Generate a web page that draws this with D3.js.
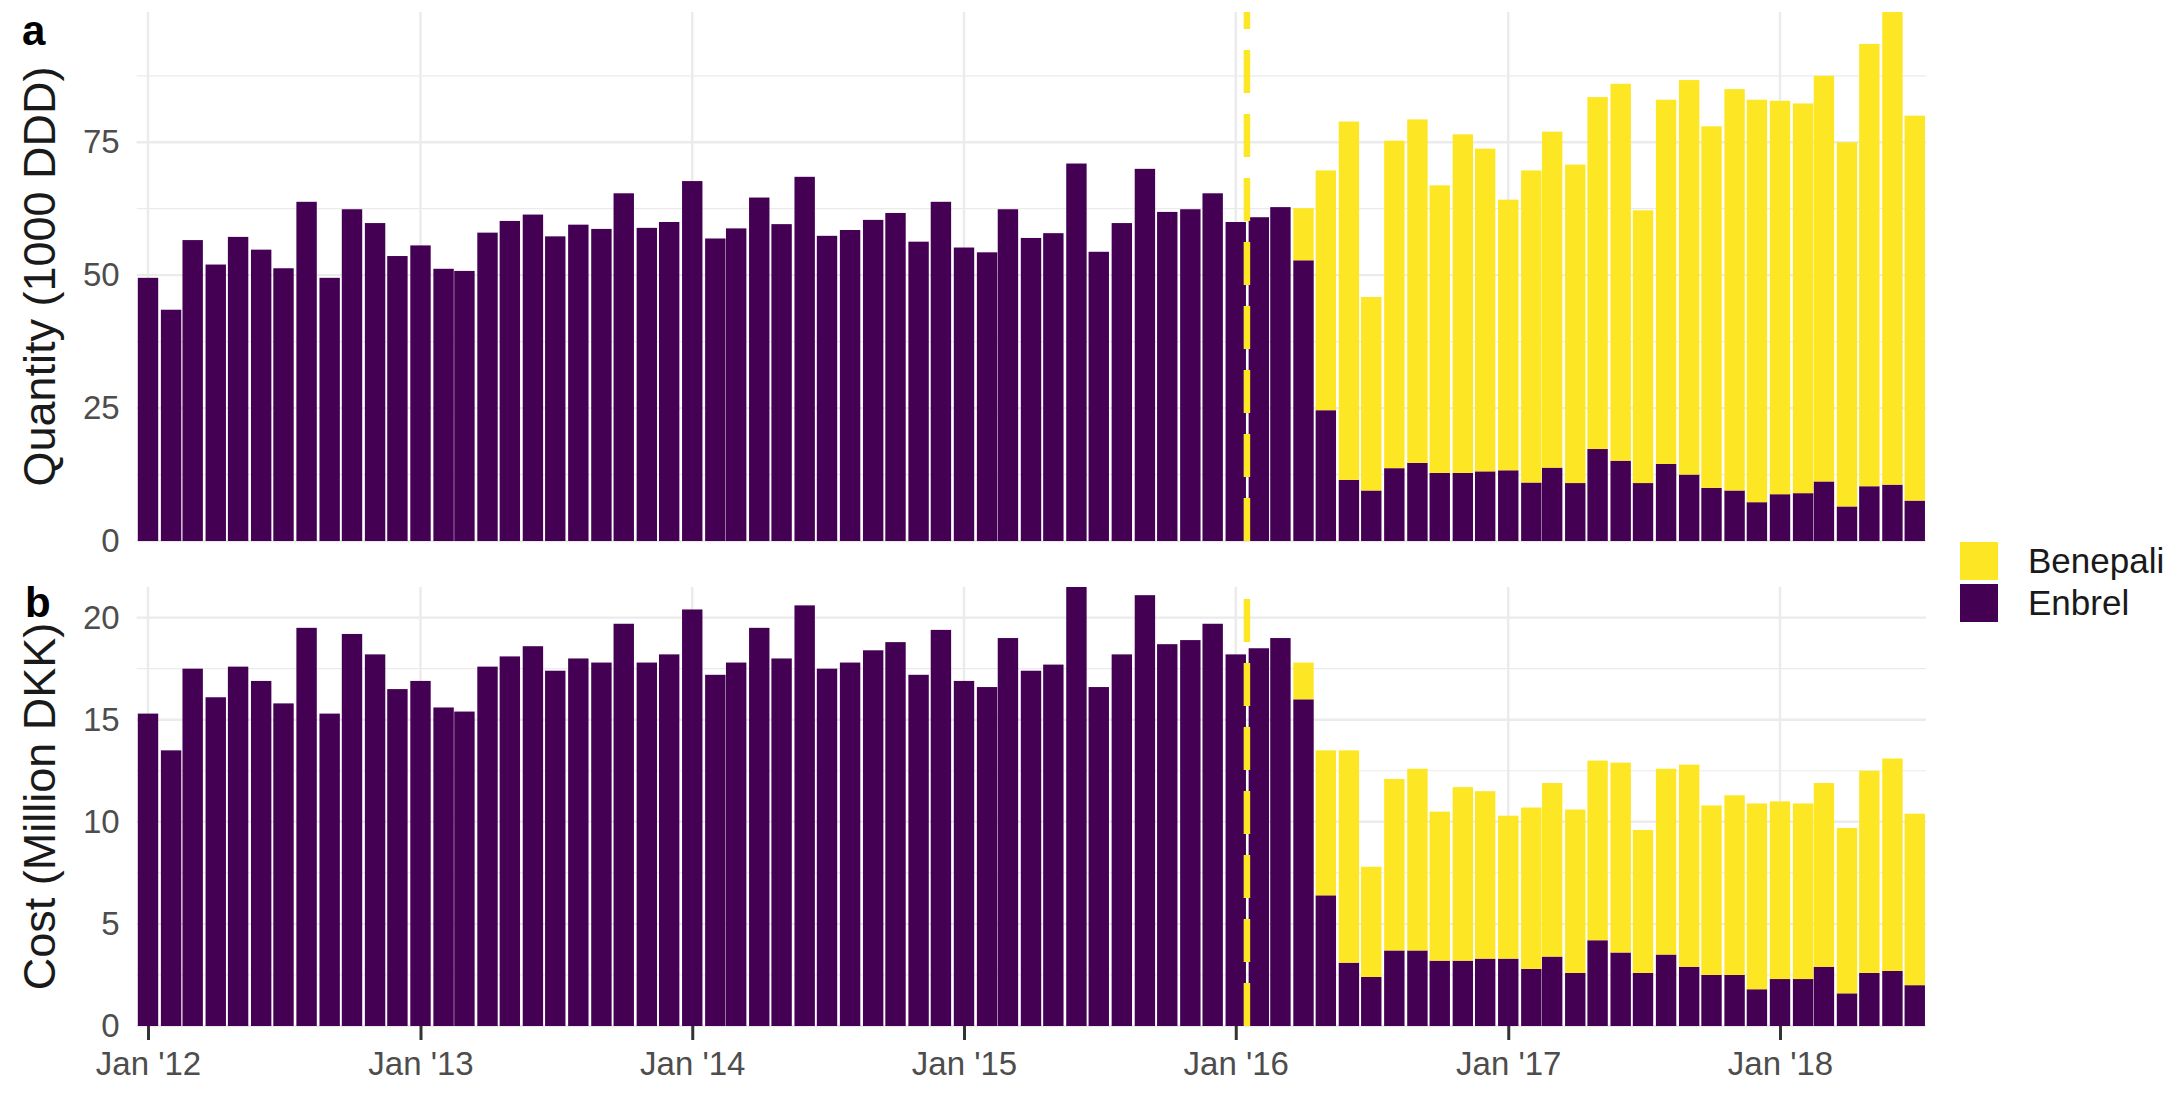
<!DOCTYPE html>
<html>
<head>
<meta charset="utf-8">
<script src="https://cdn.jsdelivr.net/npm/d3@7"></script>
<style>
  body { margin: 0; background: #fff; }
  text { font-family: "Liberation Sans", Arial, sans-serif; }
</style>
</head>
<body>
<svg id="chart" width="2169" height="1097"></svg>
<script>
// monthly categories Jan 2012 - Jul 2018
const months = d3.timeMonth.range(new Date(2012, 0, 1), new Date(2018, 7, 1));
const yearTicks = d3.timeYear.range(new Date(2012, 0, 1), new Date(2018, 1, 1));
const switchDate = new Date(2016, 0, 16);

// quantity, 1000 DDD
const qtyEnbrel = [
  49.5, 43.5, 56.6, 52, 57.2, 54.8, 51.3, 63.8, 49.5, 62.4, 59.8, 53.6,
  55.6, 51.2, 50.8, 58, 60.2, 61.4, 57.3, 59.5, 58.7, 65.4, 58.9, 60,
  67.7, 56.9, 58.8, 64.6, 59.6, 68.5, 57.4, 58.5, 60.4, 61.7, 56.3, 63.8,
  55.2, 54.3, 62.4, 57, 57.9, 71, 54.4, 59.8, 70, 61.9, 62.4, 65.4,
  60, 60.9, 62.8, 52.8, 24.6, 11.5, 9.5, 13.7, 14.7, 12.8, 12.8, 13.1,
  13.3, 11, 13.8, 10.9, 17.3, 15.1, 10.9, 14.5, 12.5, 10, 9.5, 7.3,
  8.8, 9, 11.2, 6.5, 10.3, 10.6, 7.6
];
const qtyBenepali = [
  0, 0, 0, 0, 0, 0, 0, 0, 0, 0, 0, 0,
  0, 0, 0, 0, 0, 0, 0, 0, 0, 0, 0, 0,
  0, 0, 0, 0, 0, 0, 0, 0, 0, 0, 0, 0,
  0, 0, 0, 0, 0, 0, 0, 0, 0, 0, 0, 0,
  0, 0, 0, 9.8, 45.1, 67.4, 36.4, 61.6, 64.6, 54.1, 63.7, 60.7,
  50.9, 58.7, 63.2, 59.9, 66.2, 70.9, 51.3, 68.5, 74.2, 68, 75.5, 75.7,
  74, 73.3, 76.3, 68.5, 83.2, 88.9, 72.4
];

// cost, million DKK
const costEnbrel = [
  15.3, 13.5, 17.5, 16.1, 17.6, 16.9, 15.8, 19.5, 15.3, 19.2, 18.2, 16.5,
  16.9, 15.6, 15.4, 17.6, 18.1, 18.6, 17.4, 18, 17.8, 19.7, 17.8, 18.2,
  20.4, 17.2, 17.8, 19.5, 18, 20.6, 17.5, 17.8, 18.4, 18.8, 17.2, 19.4,
  16.9, 16.6, 19, 17.4, 17.7, 21.5, 16.6, 18.2, 21.1, 18.7, 18.9, 19.7,
  18.2, 18.5, 19, 16, 6.4, 3.1, 2.4, 3.7, 3.7, 3.2, 3.2, 3.3,
  3.3, 2.8, 3.4, 2.6, 4.2, 3.6, 2.6, 3.5, 2.9, 2.5, 2.5, 1.8,
  2.3, 2.3, 2.9, 1.6, 2.6, 2.7, 2.0
];
const costBenepali = [
  0, 0, 0, 0, 0, 0, 0, 0, 0, 0, 0, 0,
  0, 0, 0, 0, 0, 0, 0, 0, 0, 0, 0, 0,
  0, 0, 0, 0, 0, 0, 0, 0, 0, 0, 0, 0,
  0, 0, 0, 0, 0, 0, 0, 0, 0, 0, 0, 0,
  0, 0, 0, 1.8, 7.1, 10.4, 5.4, 8.4, 8.9, 7.3, 8.5, 8.2,
  7.0, 7.9, 8.5, 8.0, 8.8, 9.3, 7.0, 9.1, 9.9, 8.3, 8.8, 9.1,
  8.7, 8.6, 9.0, 8.1, 9.9, 10.4, 8.4
];

const qtyTicks = [0, 25, 50, 75];
const costTicks = [0, 5, 10, 15, 20];
const keys = ["Enbrel", "Benepali"];
const colors = {Enbrel: "#440154", Benepali: "#FDE725"};

const svg = d3.select("#chart");

const x = d3.scaleTime()
    .domain([new Date(2012, 0, 1), new Date(2018, 0, 1)])
    .range([148, 1780]);
const monthW = (x.range()[1] - x.range()[0]) / 72;
const barW = monthW * 0.9;
const xLeft = x(months[0]) - monthW / 2;
const xRight = x(months[months.length - 1]) + monthW / 2;

function drawPanel(cfg) {
  const rows = months.map(function(d, i) {
    return {date: d, Enbrel: cfg.enbrel[i], Benepali: cfg.benepali[i]};
  });
  const series = d3.stack().keys(keys)(rows);
  const ymax = d3.max(rows, function(d) { return d.Enbrel + d.Benepali; });

  const y = d3.scaleLinear()
      .domain([0, ymax])
      .range([cfg.bottom, cfg.top]);

  const g = svg.append("g");

  // minor grid (half way between major ticks)
  const step = cfg.ticks[1] - cfg.ticks[0];
  const minor = cfg.ticks.map(function(t) { return t + step / 2; })
      .filter(function(v) { return v < ymax; });

  g.append("g").selectAll("line")
      .data(minor)
      .join("line")
      .attr("x1", xLeft).attr("x2", xRight)
      .attr("y1", function(d) { return y(d); })
      .attr("y2", function(d) { return y(d); })
      .attr("stroke", "#EBEBEB")
      .attr("stroke-width", 1.2);

  g.append("g").selectAll("line")
      .data(cfg.ticks)
      .join("line")
      .attr("x1", xLeft).attr("x2", xRight)
      .attr("y1", function(d) { return y(d); })
      .attr("y2", function(d) { return y(d); })
      .attr("stroke", "#EBEBEB")
      .attr("stroke-width", 2.4);

  g.append("g").selectAll("line")
      .data(yearTicks)
      .join("line")
      .attr("x1", function(d) { return x(d); })
      .attr("x2", function(d) { return x(d); })
      .attr("y1", cfg.top).attr("y2", cfg.bottom)
      .attr("stroke", "#EBEBEB")
      .attr("stroke-width", 2.4);

  // stacked bars
  g.append("g").selectAll("g")
      .data(series)
      .join("g")
      .attr("fill", function(d) { return colors[d.key]; })
      .selectAll("rect")
      .data(function(d) { return d; })
      .join("rect")
      .attr("x", function(d) { return x(d.data.date) - barW / 2; })
      .attr("y", function(d) { return y(d[1]); })
      .attr("width", barW)
      .attr("height", function(d) { return y(d[0]) - y(d[1]); });

  // biosimilar switch, dashed line drawn from bottom to top
  g.append("line")
      .attr("x1", x(switchDate)).attr("x2", x(switchDate))
      .attr("y1", cfg.bottom).attr("y2", cfg.top)
      .attr("stroke", "#FDE725")
      .attr("stroke-width", 6.5)
      .attr("stroke-dasharray", "43,21");

  // y axis labels
  g.append("g")
      .attr("transform", "translate(" + xLeft + ",0)")
      .call(d3.axisLeft(y).tickValues(cfg.ticks).tickSize(0).tickPadding(17))
      .call(function(a) { a.select(".domain").remove(); })
      .selectAll("text")
      .style("font-size", "33px")
      .style("font-family", "'Liberation Sans', Arial, sans-serif")
      .attr("fill", "#4D4D4D");

  g.append("text")
      .attr("transform", "translate(55," + (cfg.top + cfg.bottom) / 2 + ") rotate(-90)")
      .attr("text-anchor", "middle")
      .style("font-size", "45px")
      .attr("fill", "#1a1a1a")
      .text(cfg.title);

  g.append("text")
      .attr("x", cfg.tagX).attr("y", cfg.tagY)
      .style("font-size", "42px")
      .style("font-weight", "bold")
      .attr("fill", "#000")
      .text(cfg.tag);

  return y;
}

drawPanel({
  top: 12, bottom: 541,
  enbrel: qtyEnbrel, benepali: qtyBenepali,
  ticks: qtyTicks,
  title: "Quantity (1000 DDD)",
  tag: "a", tagX: 22, tagY: 45
});

drawPanel({
  top: 587, bottom: 1026,
  enbrel: costEnbrel, benepali: costBenepali,
  ticks: costTicks,
  title: "Cost (Million DKK)",
  tag: "b", tagX: 25, tagY: 617
});

// x axis under the lower panel
svg.append("g")
    .attr("transform", "translate(0,1026)")
    .call(d3.axisBottom(x)
      .tickValues(yearTicks)
      .tickSize(14)
      .tickPadding(12)
      .tickFormat(function(d) { return "Jan '" + d3.timeFormat("%y")(d); }))
    .call(function(a) { a.select(".domain").remove(); })
    .call(function(a) {
      a.selectAll("line").attr("stroke", "#333").attr("stroke-width", 3);
      a.selectAll("text")
        .style("font-size", "33px")
        .style("font-family", "'Liberation Sans', Arial, sans-serif")
        .attr("fill", "#4D4D4D");
    });

// legend
const legendKeys = ["Benepali", "Enbrel"];
const legend = svg.append("g").attr("transform", "translate(1960,542)");
const item = legend.selectAll("g")
    .data(legendKeys)
    .join("g")
    .attr("transform", function(d, i) { return "translate(0," + i * 42 + ")"; });
item.append("rect")
    .attr("width", 38).attr("height", 38)
    .attr("fill", function(d) { return colors[d]; });
item.append("text")
    .attr("x", 68).attr("y", 19)
    .attr("dy", "0.35em")
    .style("font-size", "35px")
    .attr("fill", "#1a1a1a")
    .text(function(d) { return d; });
</script>
</body>
</html>
